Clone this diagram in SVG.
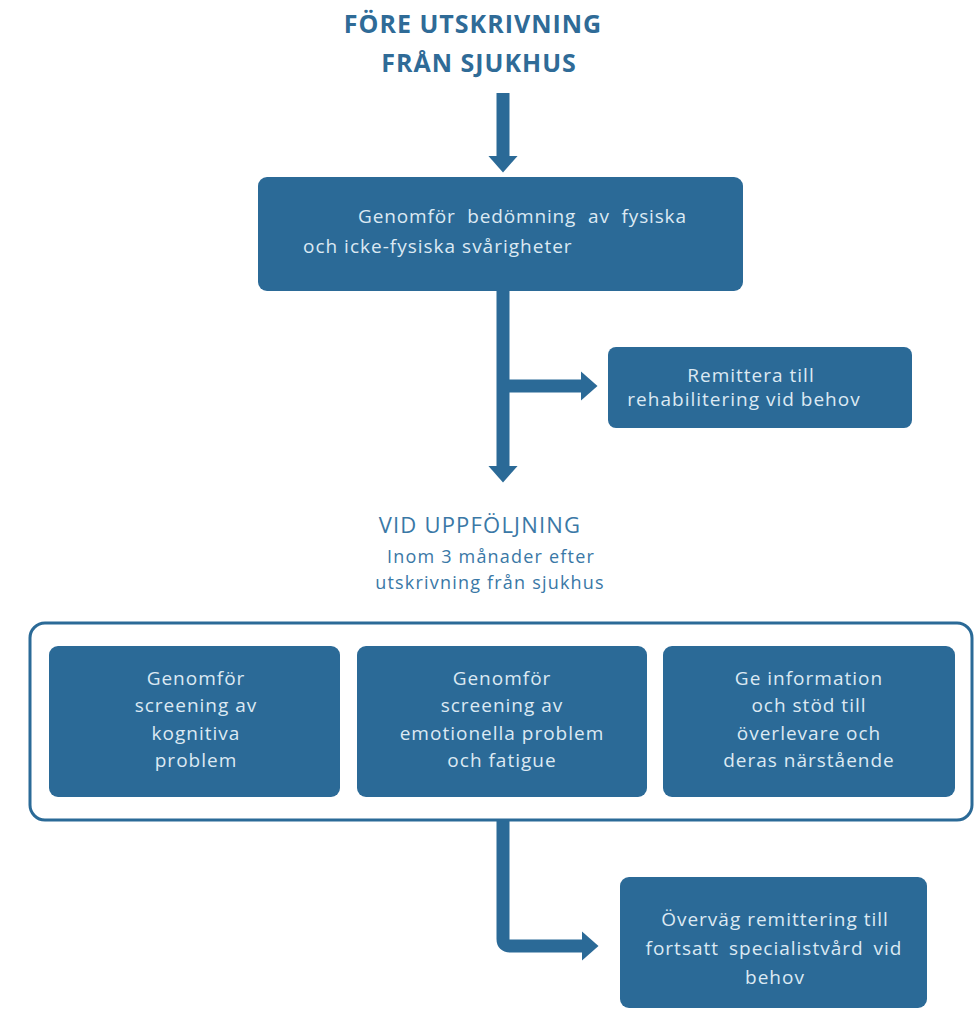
<svg xmlns="http://www.w3.org/2000/svg" width="975" height="1011" viewBox="0 0 975 1011">
<style>
.box{fill:#2b6a97;}
.bt{font-family:"Open Sans","Liberation Sans",sans-serif;font-size:19px;letter-spacing:1px;fill:#dce9f3;text-anchor:middle;}
.title{font-family:"Open Sans","Liberation Sans",sans-serif;font-weight:bold;font-size:25px;letter-spacing:1px;fill:#2f6b97;text-anchor:middle;}
.sub{font-family:"Open Sans","Liberation Sans",sans-serif;fill:#3a78a6;text-anchor:middle;letter-spacing:1.2px;}
.conn{fill:none;stroke:#2b6a97;stroke-width:13;}
</style>
<defs>
<marker id="ah" markerUnits="userSpaceOnUse" viewBox="0 0 17 30" markerWidth="17" markerHeight="30" refX="0.5" refY="15" orient="auto">
<path d="M0,0 L17,15 L0,30 z" fill="#2b6a97"/>
</marker>
</defs>
<rect width="975" height="1011" fill="#ffffff"/>
<g id="title-before">
<text class="title" x="473" y="33">FÖRE UTSKRIVNING</text>
<text class="title" x="479" y="72">FRÅN SJUKHUS</text>
</g>
<g id="connectors">
<path class="conn" d="M503,93 V156" marker-end="url(#ah)"/>
<path class="conn" d="M503,291 V466" marker-end="url(#ah)"/>
<path class="conn" d="M503,386 H581" marker-end="url(#ah)"/>
<path class="conn" d="M503,820 V939 Q503,946 510,946 H582" marker-end="url(#ah)"/>
</g>
<g id="assess">
<rect class="box" x="258" y="177" width="485" height="114" rx="9"/>
<text class="bt" style="text-anchor:start" x="358" y="223" textLength="329" lengthAdjust="spacing" word-spacing="6">Genomför bedömning av fysiska</text>
<text class="bt" style="text-anchor:start" x="303" y="253">och icke-fysiska svårigheter</text>
</g>
<g id="rehab">
<rect class="box" x="608" y="347" width="304" height="81" rx="8"/>
<text class="bt" x="751" y="382">Remittera till</text>
<text class="bt" x="744" y="406">rehabilitering vid behov</text>
</g>
<g id="title-followup">
<text class="sub" x="480" y="533" font-size="22" letter-spacing="1">VID UPPFÖLJNING</text>
<text class="sub" x="491" y="563" font-size="18">Inom 3 månader efter</text>
<text class="sub" x="490" y="589" font-size="18">utskrivning från sjukhus</text>
</g>
<g id="followup-group">
<rect x="30" y="623" width="942" height="197" rx="15" fill="none" stroke="#2b6a97" stroke-width="3"/>
</g>
<g id="cognitive">
<rect class="box" x="49" y="646" width="291" height="151" rx="9"/>
<text class="bt" x="196" y="685">Genomför</text>
<text class="bt" x="196" y="712">screening av</text>
<text class="bt" x="196" y="740">kognitiva</text>
<text class="bt" x="196" y="767">problem</text>
</g>
<g id="emotional">
<rect class="box" x="357" y="646" width="290" height="151" rx="9"/>
<text class="bt" x="502" y="685">Genomför</text>
<text class="bt" x="502" y="712">screening av</text>
<text class="bt" x="502" y="740">emotionella problem</text>
<text class="bt" x="502" y="767">och fatigue</text>
</g>
<g id="information">
<rect class="box" x="663" y="646" width="292" height="151" rx="9"/>
<text class="bt" x="809" y="685">Ge information</text>
<text class="bt" x="809" y="712">och stöd till</text>
<text class="bt" x="809" y="740">överlevare och</text>
<text class="bt" x="809" y="767">deras närstående</text>
</g>
<g id="specialist">
<rect class="box" x="620" y="877" width="307" height="131" rx="9"/>
<text class="bt" x="775" y="926">Överväg remittering till</text>
<text class="bt" x="774" y="955" word-spacing="4">fortsatt specialistvård vid</text>
<text class="bt" x="775" y="984">behov</text>
</g>
</svg>
